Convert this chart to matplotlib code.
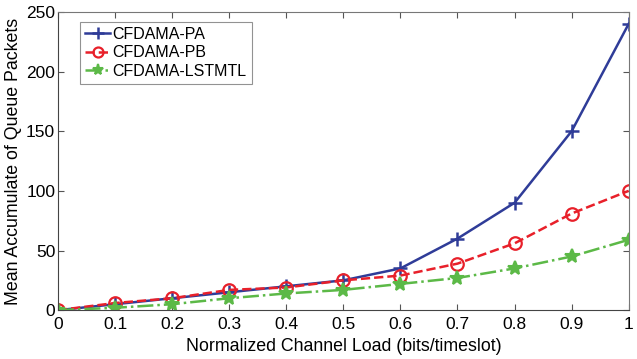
import matplotlib
matplotlib.use("Agg")
import matplotlib.pyplot as plt

plt.rcParams['font.family'] = ['Liberation Sans', 'DejaVu Sans']

x = [0, 0.1, 0.2, 0.3, 0.4, 0.5, 0.6, 0.7, 0.8, 0.9, 1.0]
pa = [0, 5, 10, 15, 20, 25, 35, 60, 90, 150, 240]
pb = [0, 6, 10, 17, 19, 25, 29, 39, 56, 81, 100]
lstm = [0, 2, 5, 10, 14, 17, 22, 27, 35, 45, 59]
labels = ['CFDAMA-PA', 'CFDAMA-PB', 'CFDAMA-LSTMTL']
xticks = [0, 0.1, 0.2, 0.3, 0.4, 0.5, 0.6, 0.7, 0.8, 0.9, 1]
xticklabels = ['0', '0.1', '0.2', '0.3', '0.4', '0.5', '0.6', '0.7', '0.8', '0.9', '1']
yticks = [0, 50, 100, 150, 200, 250]

fig = plt.figure(figsize=(6.37, 3.59), dpi=100)
ax = fig.add_axes([0.091, 0.136, 0.896, 0.831])

ax.plot(x, pa, '-', color='#2f3c98', lw=1.8, marker='+', ms=10, mew=1.8, label=labels[0])
ax.plot(x, pb, '--', color='#e8202a', lw=1.8, marker='o', ms=9, mfc='none', mew=1.6, label=labels[1])
ax.plot(x, lstm, '-.', color='#5cb947', lw=1.8, marker='*', ms=10, mew=1.5, label=labels[2])

ax.set_xlim(0, 1)
ax.set_ylim(0, 250)
ax.set_xticks(xticks)
ax.set_xticklabels(xticklabels)
ax.set_yticks(yticks)
ax.tick_params(direction='in', top=True, right=True, labelsize=12.5, length=4, color='#555555')
ax.tick_params(axis='x', pad=5)
ax.tick_params(axis='y', pad=2)
for s in ax.spines.values():
    s.set_color('#777777')
    s.set_linewidth(0.8)
ax.spines['left'].set_color('#444444')
ax.spines['bottom'].set_color('#444444')

ax.set_xlabel('Normalized Channel Load (bits/timeslot)', fontsize=12.8, labelpad=4)
ax.set_ylabel('Mean Accumulate of Queue Packets', fontsize=12.8, labelpad=3)

leg = ax.legend(loc='upper left', bbox_to_anchor=(0.0385, 0.966), borderaxespad=0,
                fontsize=11.5, frameon=True, fancybox=False, edgecolor='#777777',
                handlelength=1.6, handletextpad=0.15, borderpad=0.3, labelspacing=0.22,
                markerscale=0.8)
leg.get_frame().set_linewidth(0.8)

fig.savefig('out.png', dpi=100)
